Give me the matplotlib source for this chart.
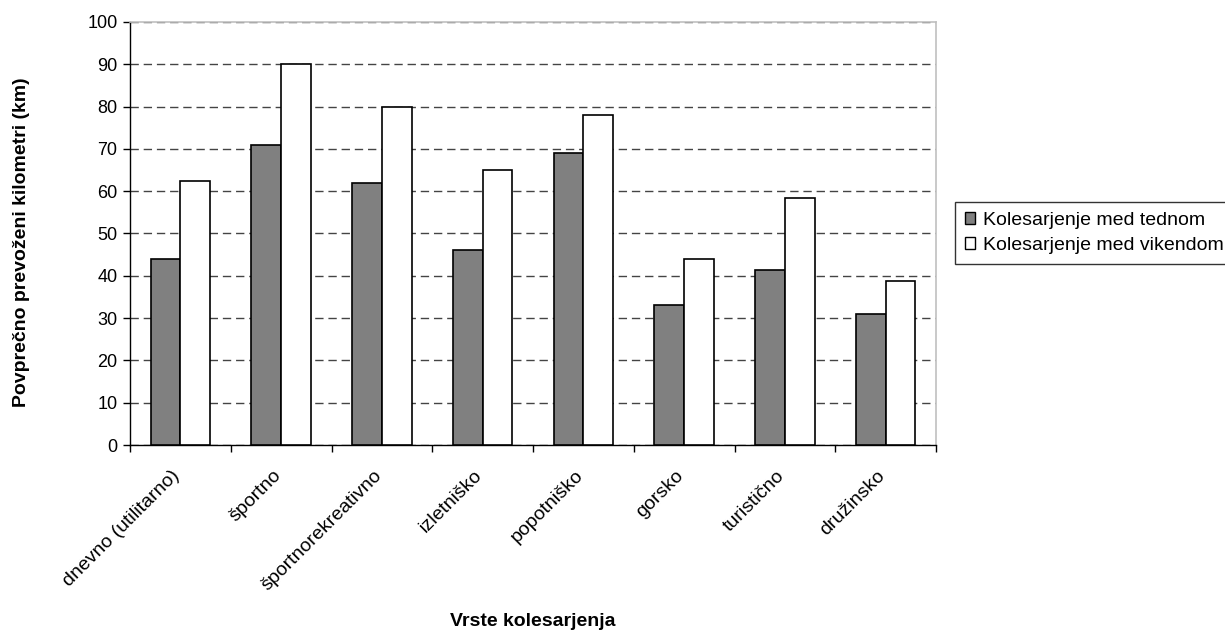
import numpy as np
import matplotlib.pyplot as plt
import matplotlib.transforms as mtransforms
from matplotlib.patches import Patch

plt.rcParams['font.family'] = ['Liberation Sans', 'DejaVu Sans']

categories = ['dnevno (utilitarno)', 'športno', 'športnorekreativno', 'izletniško',
              'popotniško', 'gorsko', 'turistično', 'družinsko']
weekday_km = [44.0, 71.0, 62.0, 46.2, 69.0, 33.1, 41.4, 30.9]
weekend_km = [62.3, 90.0, 80.0, 65.0, 78.0, 44.0, 58.3, 38.7]
series_names = ['Kolesarjenje med tednom', 'Kolesarjenje med vikendom']

fig = plt.figure(figsize=(12.25, 6.34), dpi=100)
ax = fig.add_axes([130 / 1225, 1 - 445 / 634, 806 / 1225, 423 / 634])

x = np.arange(len(categories))
w = 0.295
ax.bar(x - w / 2, weekday_km, width=w, color='#808080', edgecolor='black', linewidth=1.2, zorder=3)
ax.bar(x + w / 2, weekend_km, width=w, color='white', edgecolor='black', linewidth=1.2, zorder=3)

ax.set_xlim(-0.5, len(categories) - 0.5)
ax.set_ylim(0, 100)
ax.set_yticks(np.arange(0, 101, 10))
ax.yaxis.grid(True, color='#444444', linestyle=(0, (6, 3.5)), linewidth=1, zorder=1)

# category labels on majors, tick marks between categories
ax.set_xticks(x)
ax.set_xticklabels(categories, rotation=45, ha='right', rotation_mode='anchor', fontsize=14)
ax.set_xticks(np.arange(-0.5, len(categories)), minor=True)
ax.tick_params(axis='x', which='major', length=0, pad=16)
ax.tick_params(axis='x', which='minor', length=5, direction='out', width=1)
ax.tick_params(axis='y', length=5, direction='out', width=1, labelsize=13, pad=4)
shift = mtransforms.ScaledTranslation(-9 / 100, 0, fig.dpi_scale_trans)
for lbl in ax.get_xticklabels():
    lbl.set_transform(lbl.get_transform() + shift)

for side in ['top', 'right']:
    ax.spines[side].set_color('#c0c0c0')
    ax.spines[side].set_linewidth(1.2)
for side in ['left', 'bottom']:
    ax.spines[side].set_color('black')
    ax.spines[side].set_linewidth(1)

fig.text(533 / 1225, 1 - 622 / 634, 'Vrste kolesarjenja', ha='center', va='center',
         fontsize=14, fontweight='bold')
fig.text(22 / 1225, 1 - 242 / 634, 'Povprečno prevoženi kilometri (km)', ha='center', va='center',
         rotation=90, fontsize=14, fontweight='bold')

handles = [Patch(facecolor='#808080', edgecolor='black', linewidth=1),
           Patch(facecolor='white', edgecolor='black', linewidth=1)]
leg = fig.legend(handles, series_names, loc='center left',
                 bbox_to_anchor=(955 / 1225, 1 - 233 / 634), fontsize=14,
                 frameon=True, fancybox=False, handlelength=0.55, handleheight=0.55,
                 handletextpad=0.4, borderpad=0.5, labelspacing=0.4, borderaxespad=0)
leg.get_frame().set_edgecolor('black')
leg.get_frame().set_linewidth(1)

fig.savefig('out.png', dpi=100)
